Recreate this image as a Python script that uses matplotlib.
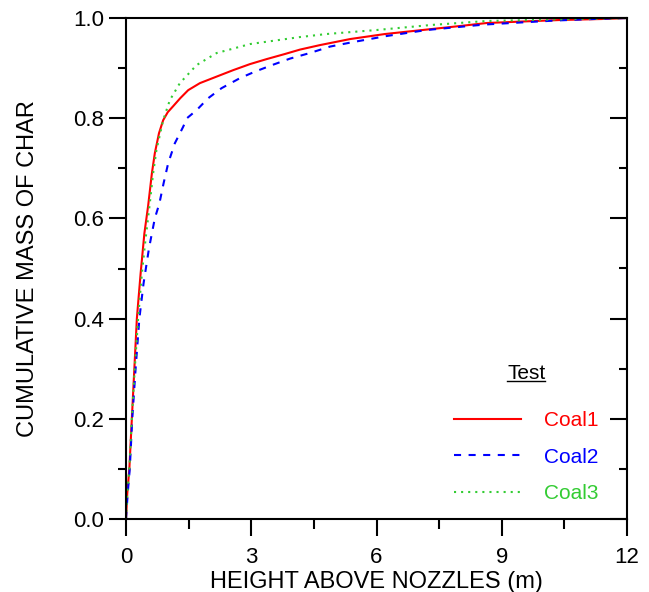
import numpy as np
import matplotlib
matplotlib.use("Agg")
import matplotlib.pyplot as plt
from matplotlib.lines import Line2D

plt.rcParams['font.family'] = ['Liberation Sans', 'DejaVu Sans']

# cumulative char mass vs height above nozzles, per coal
h_coal1 = [0, 0.03, 0.08, 0.14, 0.2, 0.26, 0.35, 0.44, 0.53, 0.62, 0.69, 0.79, 0.89,
           1.0, 1.13, 1.3, 1.49, 1.77, 2.2, 2.57, 2.97, 3.37, 3.8, 4.17, 4.65, 5.37,
           6.2, 7.1, 8.0, 8.64, 9.5, 10.4, 11.4, 12]
m_coal1 = [0, 0.05, 0.1, 0.2, 0.3, 0.4, 0.49, 0.57, 0.625, 0.69, 0.73, 0.77, 0.796,
           0.812, 0.824, 0.84, 0.856, 0.87, 0.884, 0.896, 0.908, 0.918, 0.928, 0.937,
           0.946, 0.958, 0.968, 0.976, 0.984, 0.99, 0.993, 0.996, 0.998, 1.0]

h_coal2 = [0, 0.04, 0.09, 0.15, 0.23, 0.32, 0.42, 0.55, 0.69, 0.8, 0.9, 1.01, 1.17,
           1.37, 1.46, 1.69, 1.97, 2.29, 2.73, 3.09, 3.53, 3.93, 4.4, 4.89, 5.44, 6.24,
           7.2, 7.83, 8.6, 9.44, 10.3, 11.2, 12]
m_coal2 = [0, 0.05, 0.1, 0.2, 0.3, 0.4, 0.47, 0.54, 0.6, 0.63, 0.67, 0.71, 0.75,
           0.783, 0.8, 0.816, 0.84, 0.86, 0.88, 0.893, 0.907, 0.919, 0.93, 0.943, 0.952,
           0.964, 0.976, 0.981, 0.987, 0.991, 0.995, 0.998, 1.0]

h_coal3 = [0, 0.03, 0.08, 0.14, 0.21, 0.29, 0.38, 0.47, 0.57, 0.65, 0.73, 0.89, 1.05,
           1.29, 1.69, 2.17, 2.97, 4.17, 4.8, 6.0, 7.3, 8.64, 10.2, 12]
m_coal3 = [0, 0.05, 0.1, 0.2, 0.3, 0.4, 0.49, 0.56, 0.63, 0.69, 0.737, 0.796, 0.836,
           0.87, 0.906, 0.93, 0.948, 0.962, 0.968, 0.976, 0.986, 0.994, 0.997, 1.0]

red = '#ff0000'
blue = '#0000ff'
green = '#33cc33'

fig = plt.figure(figsize=(6.49, 5.92), dpi=100)
ax = fig.add_axes([126/649, 1 - 519/592, 501/649, 501/592])

ax.plot(h_coal1, m_coal1, color=red, lw=1.5, label='Coal1')
ax.plot(h_coal2, m_coal2, color=blue, lw=1.5, dashes=(3.4, 3.6), label='Coal2')
ax.plot(h_coal3, m_coal3, color=green, lw=1.5, dashes=(1, 2.4), label='Coal3')

ax.set_xlim(0, 12)
ax.set_ylim(0, 1.0)
ax.set_xticks([0, 3, 6, 9, 12])
ax.set_xticks(np.arange(0, 12.1, 1.5), minor=True)
ax.set_yticks(np.arange(0, 1.01, 0.2))
ax.set_yticks(np.arange(0, 1.01, 0.1), minor=True)
ax.set_yticklabels(['0.0', '0.2', '0.4', '0.6', '0.8', '1.0'])

for s in ax.spines.values():
    s.set_linewidth(1.5)

ax.tick_params(axis='both', which='both', direction='out', width=1.5,
               labelsize=16, top=False, right=False)
ax.tick_params(axis='y', which='major', length=12, pad=4)
ax.tick_params(axis='y', which='minor', length=6)
ax.tick_params(axis='x', which='major', length=12, pad=8)
ax.tick_params(axis='x', which='minor', length=7)

# inward ticks on the right side
ax_r = ax.twinx()
ax_r.set_ylim(0, 1.0)
ax_r.set_yticks(np.arange(0, 1.01, 0.2))
ax_r.set_yticks(np.arange(0, 1.01, 0.1), minor=True)
ax_r.tick_params(axis='y', which='both', direction='in', width=1.5, labelright=False)
ax_r.tick_params(axis='y', which='major', length=12)
ax_r.tick_params(axis='y', which='minor', length=6)
for s in ax_r.spines.values():
    s.set_visible(False)

ax.set_xlabel('HEIGHT ABOVE NOZZLES (m)', fontsize=17, labelpad=2)
ax.set_ylabel('CUMULATIVE MASS OF CHAR', fontsize=17, labelpad=24)

leg = ax_r.legend(*ax.get_legend_handles_labels(), loc='upper left',
                  bbox_to_anchor=(0.655, 0.309), frameon=False,
                  title='Test', title_fontsize=15, fontsize=15,
                  handlelength=3.2, handletextpad=1.1, labelspacing=0.85,
                  borderpad=0, borderaxespad=0)
leg._legend_box.sep = 20
for txt, c in zip(leg.get_texts(), [red, blue, green]):
    txt.set_color(c)

# underline the legend title
fig.canvas.draw()
bb = leg.get_title().get_window_extent().transformed(fig.transFigure.inverted())
uy = bb.y0 + 2.0 / 592
fig.add_artist(Line2D([bb.x0, bb.x1], [uy, uy], color='black', lw=1.0,
                      transform=fig.transFigure))

fig.savefig('out.png', dpi=100)
